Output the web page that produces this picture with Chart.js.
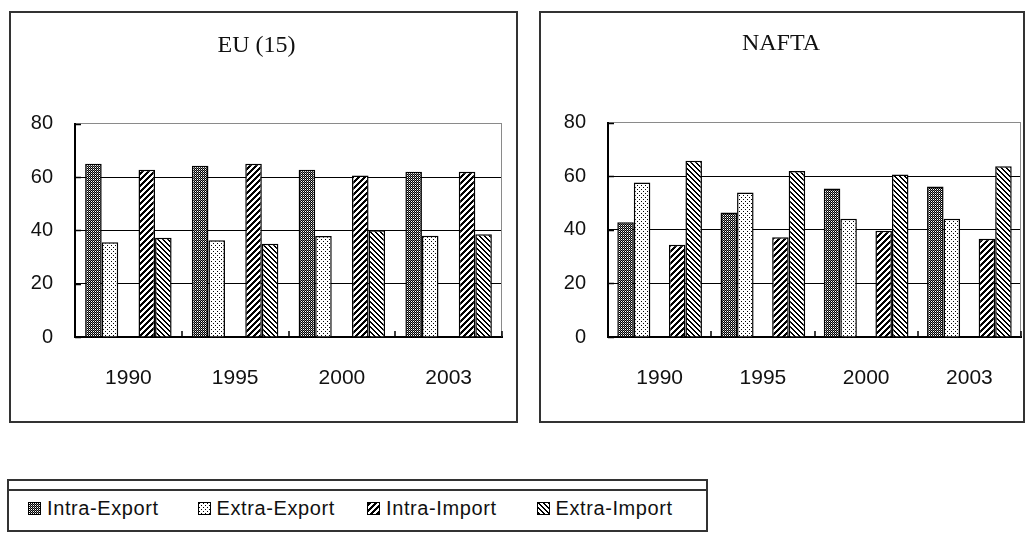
<!DOCTYPE html>
<html>
<head>
<meta charset="utf-8">
<script src="https://cdn.jsdelivr.net/npm/chart.js@4.4.1/dist/chart.umd.min.js"></script>
<style>
  body { margin: 0; background: #fff; width: 1026px; height: 534px; position: relative; overflow: hidden; font-family: 'Liberation Sans', Arial, sans-serif; }
  .panel { position: absolute; top: 11px; height: 412px; border: 2px solid #333; box-sizing: border-box; }
  #euBox { left: 9px; width: 509px; }
  #naftaBox { left: 539px; width: 486px; }
  .panel canvas { display: block; }
  #legend { position: absolute; left: 7px; top: 479px; width: 701px; height: 53px; border: 2px solid #333; box-sizing: border-box; }
  #legend .strip { height: 8px; border-bottom: 2px solid #333; }
  #legend .items { display: flex; padding-left: 19px; margin-top: 6px; }
  .item { width: 177px; display: flex; align-items: center; font-size: 20px; letter-spacing: 0.6px; color: #111; line-height: 22px; }
  .item canvas { margin-right: 6px; border: 1px solid #000; box-sizing: border-box; }
</style>
</head>
<body>
<div class="panel" id="euBox"><canvas id="euChart" width="505" height="408"></canvas></div>
<div class="panel" id="naftaBox"><canvas id="naftaChart" width="482" height="408"></canvas></div>
<div id="legend">
  <div class="strip"></div>
  <div class="items" id="legendItems"></div>
</div>
<script>
// --- DATA (share in %) ---
const years = ['1990', '1995', '2000', '2003'];
const seriesNames = ['Intra-Export', 'Extra-Export', 'Intra-Import', 'Extra-Import'];
const yTicks = [0, 20, 40, 60, 80];

const euIntraExport = [65.0, 64.3, 62.8, 62.0];
const euExtraExport = [35.6, 36.3, 37.9, 38.0];
const euIntraImport = [62.8, 65.0, 60.6, 62.0];
const euExtraImport = [37.2, 35.0, 40.1, 38.6];

const naftaIntraExport = [42.9, 46.5, 55.5, 56.2];
const naftaExtraExport = [57.7, 54.0, 44.2, 44.2];
const naftaIntraImport = [34.5, 37.3, 39.7, 36.7];
const naftaExtraImport = [65.8, 62.0, 60.7, 63.8];

// --- PATTERNS (black & white hatching like the original) ---
function makeTile(size, pick) {
    const c = document.createElement('canvas');
    c.width = c.height = size;
    const g = c.getContext('2d');
    g.fillStyle = '#fff';
    g.fillRect(0, 0, size, size);
    for (let y = 0; y < size; y++) {
        for (let x = 0; x < size; x++) {
            const col = pick(x, y);
            if (col) { g.fillStyle = col; g.fillRect(x, y, 1, 1); }
        }
    }
    return c;
}

const tiles = [
    makeTile(2, (x, y) => (x === 0 && y === 0) ? null : (x === 1 && y === 1 ? '#777' : '#000')), // dense dots
    makeTile(4, (x, y) => ((x === 0 && y === 0) || (x === 2 && y === 2)) ? '#000' : null),       // sparse dots
    makeTile(6, (x, y) => ((x + y) % 6 < 3) ? '#000' : null),                                     // '/'
    makeTile(5, (x, y) => ((((x - y) % 5) + 5) % 5 < 2) ? '#000' : null)                          // '\'
];

function patternFor(ctx, i) {
    return ctx.createPattern(tiles[i], 'repeat');
}

// 8 slots: for each year an export pair then an import pair
function spread(vals, slot) {
    const out = [];
    vals.forEach(v => {
        out.push(slot === 0 ? v : null);
        out.push(slot === 1 ? v : null);
    });
    return out;
}

// short tick marks and grey plot frame
const frameAndTicks = {
    id: 'frameAndTicks',
    afterDatasetsDraw(chart) {
        const { ctx, chartArea: a, scales } = chart;
        ctx.save();
        ctx.strokeStyle = '#8a8a8a';
        ctx.lineWidth = 1;
        ctx.beginPath();
        ctx.moveTo(Math.round(a.right) - 0.5, a.top);
        ctx.lineTo(Math.round(a.right) - 0.5, a.bottom);
        ctx.stroke();

        ctx.strokeStyle = '#000';
        ctx.lineWidth = 1.5;
        ctx.beginPath();
        for (let i = 1; i <= years.length; i++) {
            const px = Math.round(scales.x2.getPixelForValue(i - 0.5));
            ctx.moveTo(px, a.bottom);
            ctx.lineTo(px, a.bottom - 6);
        }
        scales.y.ticks.forEach(t => {
            const py = Math.round(scales.y.getPixelForValue(t.value)) + 0.5;
            ctx.moveTo(a.left, py);
            ctx.lineTo(a.left + 6, py);
        });
        ctx.stroke();
        ctx.restore();
    }
};

function makePanel(canvasId, title, ie, ee, ii, ei, opt) {
    const canvas = document.getElementById(canvasId);
    const ctx = canvas.getContext('2d');
    const slots = years.flatMap(y => [y + ' Export', y + ' Import']);
    const series = [spread(ie, 0), spread(ee, 0), spread(ii, 1), spread(ei, 1)];

    return new Chart(ctx, {
        type: 'bar',
        data: {
            labels: slots,
            datasets: series.map((d, i) => ({
                label: seriesNames[i],
                data: d,
                backgroundColor: patternFor(ctx, i),
                borderColor: '#000',
                borderWidth: 1.5,
                skipNull: true,
                categoryPercentage: opt.catPct,
                barPercentage: 1.0
            }))
        },
        options: {
            responsive: false,
            animation: false,
            layout: { padding: { left: 0, right: opt.rightPad, top: 0, bottom: 0 } },
            plugins: {
                legend: { display: false },
                tooltip: { enabled: false },
                title: {
                    display: true,
                    text: title,
                    color: '#111',
                    font: { family: "'Liberation Serif', serif", size: 24, weight: 'normal' },
                    padding: { top: opt.titleTop, bottom: opt.titleBottom }
                }
            },
            scales: {
                x: { display: false, offset: true },
                x2: {
                    type: 'category',
                    labels: years,
                    offset: true,
                    position: 'bottom',
                    grid: { display: false },
                    border: { color: '#000', width: 2 },
                    ticks: { padding: 21, color: '#111', font: { family: "'Liberation Sans', sans-serif", size: 21 } },
                    afterFit(s) { s.height = 84; }
                },
                y: {
                    min: 0,
                    max: 80,
                    afterBuildTicks(s) { s.ticks = yTicks.map(v => ({ value: v })); },
                    grid: { color: c => (c.tick && c.tick.value === 80) ? '#8a8a8a' : '#000', lineWidth: 1, drawTicks: false },
                    border: { color: '#000', width: 2 },
                    ticks: { padding: 22, color: '#111', font: { family: "'Liberation Sans', sans-serif", size: 20 } },
                    afterFit(s) { s.width = opt.yWidth; }
                }
            }
        },
        plugins: [frameAndTicks]
    });
}

makePanel('euChart', 'EU (15)', euIntraExport, euExtraExport, euIntraImport, euExtraImport,
    { catPct: 0.62, rightPad: 14, yWidth: 64, titleTop: 18, titleBottom: 64 });
makePanel('naftaChart', 'NAFTA', naftaIntraExport, naftaExtraExport, naftaIntraImport, naftaExtraImport,
    { catPct: 0.64, rightPad: 2, yWidth: 67, titleTop: 16, titleBottom: 65 });

// --- LEGEND ---
const legendBox = document.getElementById('legendItems');
seriesNames.forEach((name, i) => {
    const item = document.createElement('div');
    item.className = 'item';
    const icon = document.createElement('canvas');
    icon.width = 11; icon.height = 11;
    const g = icon.getContext('2d');
    g.fillStyle = g.createPattern(tiles[i], 'repeat');
    g.fillRect(0, 0, 11, 11);
    const label = document.createElement('span');
    label.textContent = name;
    item.appendChild(icon);
    item.appendChild(label);
    legendBox.appendChild(item);
});
</script>
</body>
</html>
